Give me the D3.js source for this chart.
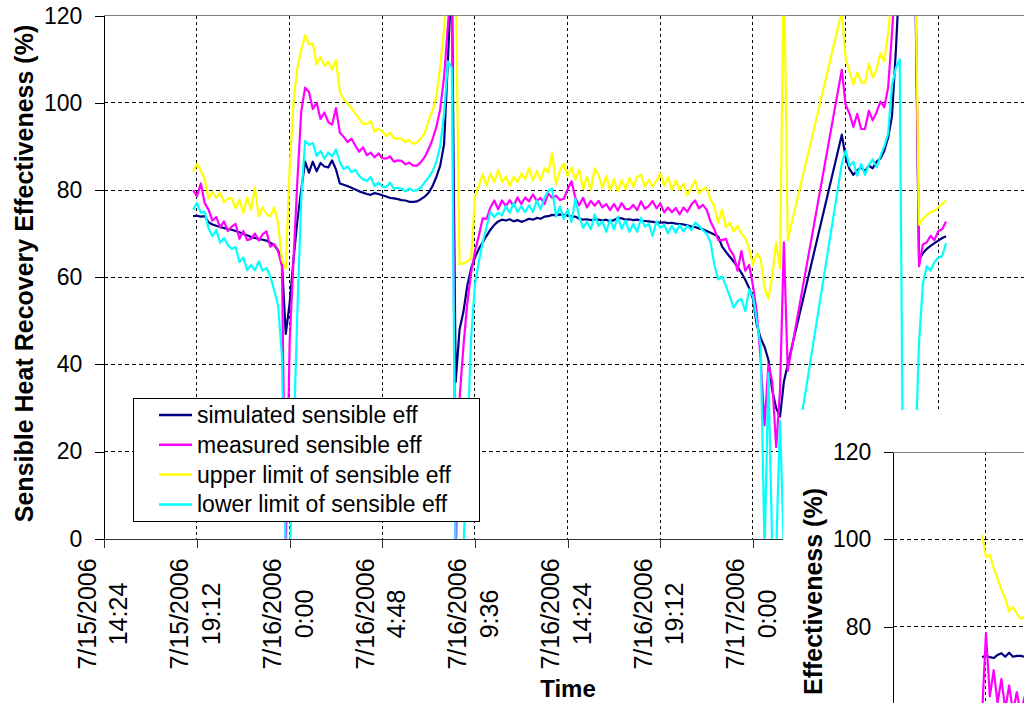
<!DOCTYPE html>
<html>
<head>
<meta charset="utf-8">
<script src="https://cdn.jsdelivr.net/npm/d3@7"></script>
<style>
  body { margin: 0; background: #fff; }
  svg { display: block; font-family: "Liberation Sans", Arial, sans-serif; }
</style>
</head>
<body>
<div id="chart"></div>
<script>
// sample times, minutes after 7/15/2006 0:00 (12 min log, gap early on 7/17)
var minutes = [
1140,1152,1164,1176,1188,1200,1212,1224,1236,1248,
1260,1272,1284,1296,1308,1320,1332,1344,1356,1368,
1380,1392,1404,1416,1428,1440,1452,1464,1476,1488,
1500,1512,1524,1536,1548,1560,1572,1584,1596,1608,
1620,1632,1644,1656,1668,1680,1692,1704,1716,1728,
1740,1752,1764,1776,1788,1800,1812,1824,1836,1848,
1860,1872,1884,1896,1908,1920,1932,1944,1956,1968,
1980,1992,2004,2016,2028,2040,2052,2064,2076,2088,
2100,2112,2124,2136,2148,2160,2172,2184,2196,2208,
2220,2232,2244,2256,2268,2280,2292,2304,2316,2328,
2340,2352,2364,2376,2388,2400,2412,2424,2436,2448,
2460,2472,2484,2496,2508,2520,2532,2544,2556,2568,
2580,2592,2604,2616,2628,2640,2652,2664,2676,2688,
2700,2712,2724,2736,2748,2760,2772,2784,2796,2808,
2820,2832,2844,2856,2868,2880,2892,2904,2916,2928,
2940,2952,2964,2976,2988,
3156,3168,3180,3192,3204,3216,3228,3240,3252,3264,
3276,3288,3300,3312,3324,3336,3348,3360,3372,3384,
3396,3408,3420,3432,3444,3456,3468,3480];

var simulated = [
74.0,74.1,73.9,74.0,72.6,72.1,71.8,71.5,71.3,71.0,
70.9,70.6,70.3,69.9,69.6,69.2,69.0,68.8,68.6,68.4,
67.9,67.3,66.2,63.5,47.0,54.0,64.0,73.0,80.0,86.5,
84.0,86.5,84.3,86.2,85.4,85.2,86.8,84.7,81.5,81.2,
80.9,80.5,80.1,79.7,79.4,79.1,78.9,79.3,79.1,78.8,
78.5,78.2,78.1,77.9,77.7,77.6,77.3,77.3,77.4,77.9,
78.5,79.4,80.9,83.0,85.6,90.5,110,130,36.0,48.0,
52.0,58.0,62.0,64.5,66.5,68.0,69.5,70.9,72.0,72.8,
73.2,73.0,73.3,72.8,73.1,72.7,73.0,73.4,73.2,73.6,
73.4,73.9,74.0,74.3,74.2,74.4,74.3,74.2,73.9,73.9,
73.4,73.2,73.3,73.1,73.3,73.2,73.0,73.2,72.8,73.1,
73.6,73.5,73.2,73.3,73.1,73.2,73.0,72.9,72.8,72.7,
72.6,72.5,72.6,72.4,72.5,72.3,72.2,72.1,71.9,71.6,
71.5,71.2,71.0,70.6,70.2,69.8,69.3,67.0,65.8,64.7,
63.6,62.4,61.0,59.4,57.5,55.0,49.0,46.0,44.0,41.0,
34.0,30.0,28.0,36.0,40.0,
92.7,87.5,84.8,83.5,84.5,85.2,84.3,85.6,85.0,86.5,
87.2,89.0,92.0,97.0,112,130,135,135,135,130,
64.0,65.5,66.5,67.2,67.8,68.4,69.0,69.4];

var measured = [
80.0,78.6,81.5,77.0,75.5,73.0,73.8,71.5,72.8,70.6,
71.6,72.2,68.8,70.6,68.5,68.8,70.0,68.4,69.8,70.5,
67.0,67.6,66.0,62.5,-3,45,64,82,98,103.5,
102.5,98.6,100.0,96.3,97.8,95.6,95.0,98.8,93.2,92.2,
91.0,91.8,90.2,88.8,89.8,88.0,88.6,87.5,88.4,87.3,
87.2,87.7,86.5,86.8,86.7,85.9,86.3,85.6,85.6,86.4,
87.6,89.4,91.6,94.5,98.6,106,118,130,-5,32,
44,54,61,66,69.5,73.5,73.4,76.0,77.6,75.6,
77.6,76.3,77.7,76.3,78.3,76.8,78.3,77.4,79.0,77.5,
78.2,76.8,79.2,78.2,78.7,77.7,78.0,80.2,82.0,78.2,
76.5,78.2,76.0,77.5,76.4,77.5,76.0,76.8,75.4,76.8,
75.3,77.0,75.6,75.6,76.6,75.4,77.4,75.7,76.3,77.5,
75.8,76.9,74.9,76.0,74.9,75.9,74.4,76.0,75.0,76.6,
77.6,75.8,76.6,75.5,72.8,71.0,68.5,68.5,68.8,66.3,
65.0,61.5,66.0,61.5,62.8,58.0,51.9,41.0,26.0,40.0,
36.0,21.0,34.0,68.0,38.5,
107.6,99.5,97.5,94.5,97.5,94.0,94.0,98.2,96.0,97.8,
100.3,99.0,103.5,116,130,135,135,135,135,135,
62.5,67.5,68.0,69.5,68.5,70.6,71.0,72.8];

var upperLimit = [
84.2,86.0,84.5,82.5,78.0,79.6,78.2,79.4,77.2,78.0,
78.2,75.8,77.8,74.8,78.3,75.5,80.5,74.0,76.0,74.5,
74.0,76.0,72.6,64.0,62.0,85.0,100,108,112,115.5,
113.5,113.6,108.8,110.5,108.5,109.5,107.6,109.8,102.5,100.9,
99.8,98.8,97.6,96.4,95.2,95.2,95.8,93.4,94.1,93.4,
92.4,93.2,91.9,91.8,91.8,91.0,91.5,90.6,90.9,91.8,
93.1,96.0,98.2,101.6,108.4,117,130,135,130,62.9,
63.2,63.6,64.3,78.5,81.0,83.6,81.0,83.8,81.8,84.6,
81.8,83.1,80.9,83.0,81.8,83.8,82.5,85.0,82.2,84.4,
82.2,85.0,84.0,88.6,81.2,84.5,86.0,83.2,85.2,82.4,
84.7,80.2,83.0,80.0,85.0,83.5,80.5,83.2,80.0,82.5,
79.6,82.3,80.2,82.8,80.8,83.0,83.5,80.8,82.3,80.8,
82.2,83.8,81.0,83.0,80.0,82.2,80.0,81.5,78.8,80.5,
82.2,79.2,80.2,80.5,77.8,76.3,72.5,75.5,71.5,72.5,
70.5,71.8,70.0,69.0,66.5,62.8,65.4,64.2,57.5,55.0,
60.5,68.0,62.0,135,68.6,
121,110.2,107.2,104.2,107.0,104.8,104.5,109.0,105.8,107.5,
111.5,109.5,116,125,135,135,135,135,135,135,
72.0,73.5,74.2,75.0,75.2,76.0,76.8,77.6];

var lowerLimit = [
75.5,77.0,74.8,75.0,71.2,69.4,70.8,67.9,69.0,67.4,
66.5,66.9,63.5,64.5,61.6,62.8,61.6,63.6,61.5,62.1,
60.2,57.0,53.5,42.0,-5,-5,22,52,78,91.2,
90.4,90.8,87.8,89.0,87.2,88.6,87.7,89.3,86.4,84.8,
85.4,84.1,84.6,83.3,82.4,82.1,83.0,80.9,81.7,80.8,
80.7,81.7,80.3,80.5,80.3,79.7,80.4,79.8,80.0,80.6,
81.8,82.9,84.3,86.5,90.1,97.5,109.5,108,-5,-5,
-3,22,46,58.5,63.5,68.0,71.5,75.0,73.8,74.8,
74.2,76.3,74.8,77.0,75.0,76.3,74.9,76.5,75.0,77.6,
75.6,78.2,79.8,80.4,73.9,76.2,73.4,75.5,72.7,78.0,
73.8,71.3,72.7,71.0,74.4,71.8,72.8,70.4,73.2,71.0,
73.9,71.1,73.0,70.4,72.2,70.4,73.6,71.6,72.2,69.5,
72.8,71.3,72.0,70.0,71.8,70.2,72.0,70.5,71.8,70.8,
72.5,71.8,70.8,70.0,68.0,62.8,59.5,60.2,58.0,55.6,
53.0,54.5,55.0,52.2,57.2,55.5,50.0,44.0,-3,38.0,
-3,-3,27.0,-3,8.0,
86.0,89.0,85.5,86.5,83.3,86.0,83.5,85.8,87.0,85.2,
87.8,90.0,93.0,104,108,110,-5,-5,-5,18,
45,58.5,62.5,61.5,63.5,64.5,64.8,67.8];

var seriesNames = ["simulated sensible eff", "measured sensible eff",
                   "upper limit of sensible eff", "lower limit of sensible eff"];
var seriesColors = ["#000080", "#ff00ff", "#ffff00", "#00ffff"];

var xTickLabels = ["7/15/2006 14:24", "7/15/2006 19:12", "7/16/2006 0:00", "7/16/2006 4:48",
                   "7/16/2006 9:36", "7/16/2006 14:24", "7/16/2006 19:12", "7/17/2006 0:00",
                   "7/17/2006 4:48", "7/17/2006 9:36", "7/17/2006 14:24"];
var yTicks = [0, 20, 40, 60, 80, 100, 120];

// second chart peeking in at the bottom right (same time axis, first readings only)
var insetSimulated = [73.0,73.4,73.0,72.8,73.5,73.9,73.1,74.0,73.1,73.3,73.3,73.1];
var insetMeasured  = [60.0,78.5,64.0,70.0,62.5,68.0,61.0,66.5,60.5,65.0,60.0,64.0];
var insetUpper     = [101.0,96.0,96.5,93.5,91.0,88.5,86.5,83.5,84.5,83.0,81.8,82.3];
var insetTicks = [80, 100, 120];

var svgWidth = 1024, svgHeight = 703;
var margin = {top: 15.7, left: 104.3};
var width = 926.7, height = 523;
var inset = {left: 783, top: 410, axisX: 893.3, plotTop: 452.3};

var svg = d3.select("#chart").append("svg").attr("width", svgWidth).attr("height", svgHeight);

var parseTime = d3.timeParse("%m/%d/%Y %H:%M");
var day0 = new Date(2006, 6, 15);
var times = minutes.map(m => d3.timeMinute.offset(day0, m));
var tickDates = xTickLabels.map(parseTime);

var xScale = d3.scaleTime().domain([tickDates[0], tickDates[tickDates.length - 1]]).range([0, width]);
var yScale = d3.scaleLinear().domain([0, 120]).range([height, 0]);

var chartGroup = svg.append("g").attr("transform", `translate(${margin.left},${margin.top})`);

// gridlines
chartGroup.append("g").selectAll("line")
  .data(yTicks.filter(v => v > 0 && v < 120)).enter().append("line")
  .attr("x1", 0).attr("x2", width)
  .attr("y1", d => yScale(d)).attr("y2", d => yScale(d))
  .attr("stroke", "#000").attr("stroke-dasharray", "4,3").attr("shape-rendering", "crispEdges");
chartGroup.append("g").selectAll("line")
  .data(tickDates.slice(1)).enter().append("line")
  .attr("x1", d => xScale(d)).attr("x2", d => xScale(d))
  .attr("y1", 0).attr("y2", height)
  .attr("stroke", "#000").attr("stroke-dasharray", "3,3").attr("shape-rendering", "crispEdges");
chartGroup.append("line").attr("x1", 0).attr("x2", width).attr("y1", 0).attr("y2", 0)
  .attr("stroke", "#808080").attr("shape-rendering", "crispEdges");

// series
chartGroup.append("clipPath").attr("id", "plotClip")
  .append("rect").attr("width", width).attr("height", height);
var line = d3.line().x((d, i) => xScale(times[i])).y(d => yScale(d));
chartGroup.append("g").attr("clip-path", "url(#plotClip)")
  .selectAll("path").data([simulated, measured, upperLimit, lowerLimit]).enter().append("path")
  .attr("d", line).attr("fill", "none")
  .attr("stroke", (d, i) => seriesColors[i]).attr("stroke-width", 2.2)
  .attr("stroke-linejoin", "round");

// axes
var leftAxis = d3.axisLeft(yScale).tickValues(yTicks).tickSize(9).tickSizeOuter(0).tickPadding(13);
chartGroup.append("g").call(leftAxis)
  .attr("font-size", null).attr("font-family", null)
  .call(g => g.selectAll("line, path").attr("stroke", "#000").attr("shape-rendering", "crispEdges"))
  .call(g => g.selectAll("text").attr("font-size", 23).attr("fill", "#000"));

var bottomAxis = d3.axisBottom(xScale).tickValues(tickDates).tickSize(9).tickSizeOuter(0).tickFormat("");
chartGroup.append("g").attr("transform", `translate(0,${height})`).call(bottomAxis)
  .call(g => g.selectAll("line, path").attr("stroke", "#333").attr("shape-rendering", "crispEdges"));

// rotated two-line date labels (only those not covered by the second chart)
var labelGroup = svg.append("g").attr("font-size", 25).attr("fill", "#000");
xTickLabels.forEach(function(lbl, i) {
  var px = margin.left + xScale(tickDates[i]);
  if (px + 20 > inset.left) return;
  var parts = lbl.split(" ");
  var t = labelGroup.append("text").attr("transform", `translate(${px},614) rotate(-90)`)
    .attr("text-anchor", "middle").attr("dominant-baseline", "central");
  t.append("tspan").attr("x", 0).attr("y", -17.5).text(parts[0]);
  t.append("tspan").attr("x", 0).attr("y", 14).text(parts[1]);
});

svg.append("text").attr("transform", "translate(24,273.5) rotate(-90)")
  .attr("text-anchor", "middle").attr("dominant-baseline", "central")
  .attr("font-size", 25).attr("font-weight", "bold")
  .text("Sensible Heat Recovery Effectiveness (%)");
svg.append("text").attr("x", 568).attr("y", 697).attr("text-anchor", "middle")
  .attr("font-size", 24).attr("font-weight", "bold").text("Time");

// legend
var legend = svg.append("g").attr("transform", "translate(133,398)");
legend.append("rect").attr("width", 346).attr("height", 123)
  .attr("fill", "#fff").attr("stroke", "#000").attr("shape-rendering", "crispEdges");
var rows = legend.selectAll("g.row").data(seriesNames).enter().append("g")
  .attr("transform", (d, i) => `translate(0,${17 + i * 29.8})`);
rows.append("line").attr("x1", 26).attr("x2", 59)
  .attr("stroke", (d, i) => seriesColors[i]).attr("stroke-width", 2.5);
rows.append("text").attr("x", 64).attr("dominant-baseline", "central")
  .attr("font-size", 23).attr("fill", "#000").text(d => d);

// second chart, partly visible
var insetGroup = svg.append("g");
insetGroup.append("rect").attr("x", inset.left).attr("y", inset.top)
  .attr("width", svgWidth - inset.left).attr("height", svgHeight - inset.top).attr("fill", "#fff");
var xi = d3.scaleTime().domain(xScale.domain()).range([inset.axisX, inset.axisX + width]);
var yi = d3.scaleLinear().domain([0, 120]).range([inset.plotTop + height, inset.plotTop]);
insetGroup.selectAll("line.hgrid").data([80, 100]).enter().append("line")
  .attr("x1", inset.axisX).attr("x2", svgWidth).attr("y1", d => yi(d)).attr("y2", d => yi(d))
  .attr("stroke", "#000").attr("stroke-dasharray", "4,3").attr("shape-rendering", "crispEdges");
insetGroup.append("line").attr("x1", xi(tickDates[1])).attr("x2", xi(tickDates[1]))
  .attr("y1", inset.plotTop).attr("y2", svgHeight)
  .attr("stroke", "#000").attr("stroke-dasharray", "3,3").attr("shape-rendering", "crispEdges");
insetGroup.append("line").attr("x1", inset.axisX).attr("x2", svgWidth)
  .attr("y1", inset.plotTop).attr("y2", inset.plotTop)
  .attr("stroke", "#808080").attr("shape-rendering", "crispEdges");

insetGroup.append("clipPath").attr("id", "insetClip").append("rect")
  .attr("x", inset.axisX).attr("y", inset.plotTop)
  .attr("width", svgWidth - inset.axisX).attr("height", svgHeight - inset.plotTop);
var insetLine = d3.line().x((d, i) => xi(times[i])).y(d => yi(d));
insetGroup.append("g").attr("clip-path", "url(#insetClip)")
  .selectAll("path").data([insetSimulated, insetMeasured, insetUpper]).enter().append("path")
  .attr("d", insetLine).attr("fill", "none")
  .attr("stroke", (d, i) => seriesColors[i]).attr("stroke-width", 2.2)
  .attr("stroke-linejoin", "round");

insetGroup.append("g").attr("transform", `translate(${inset.axisX},0)`)
  .call(d3.axisLeft(yi).tickValues(insetTicks).tickSize(9).tickSizeOuter(0).tickPadding(13))
  .attr("font-size", null).attr("font-family", null)
  .call(g => g.selectAll("line, path").attr("stroke", "#000").attr("shape-rendering", "crispEdges"))
  .call(g => g.selectAll("text").attr("font-size", 23).attr("fill", "#000"));

insetGroup.append("text").attr("transform", "translate(813,488) rotate(-90)")
  .attr("text-anchor", "end").attr("dominant-baseline", "central")
  .attr("font-size", 25).attr("font-weight", "bold").text("Effectiveness (%)");
</script>
</body>
</html>
